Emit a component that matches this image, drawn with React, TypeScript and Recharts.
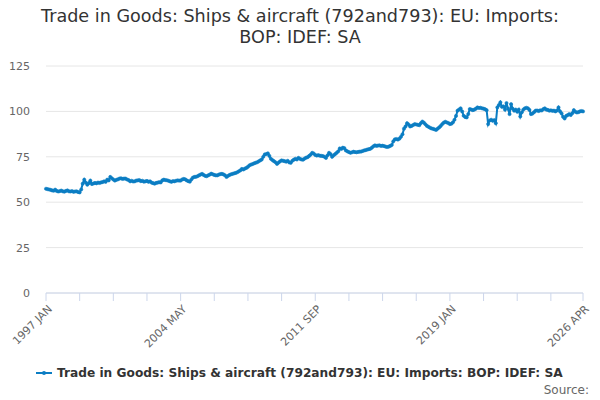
import React from "react";
import { LineChart, Line, XAxis, YAxis, CartesianGrid } from "recharts";

const TITLE_LINES = [
  "Trade in Goods: Ships & aircraft (792and793): EU: Imports:",
  "BOP: IDEF: SA",
];
const SERIES_NAME = "Trade in Goods: Ships & aircraft (792and793): EU: Imports: BOP: IDEF: SA";
const START_YEAR = 1997;
const MONTH_NAMES = ["JAN", "FEB", "MAR", "APR", "MAY", "JUN", "JUL", "AUG", "SEP", "OCT", "NOV", "DEC"];
const TICK_LABELS = ["1997 JAN", "2004 MAY", "2011 SEP", "2019 JAN", "2026 APR"];
const Y_TICKS = [0, 25, 50, 75, 100, 125];

// Monthly index values, 1997 JAN .. 2026 APR
const imports: number[] = [
  // 1997
  57.4, 57.2, 57.0, 56.8, 56.5, 56.3, 56.9, 56.2, 55.9, 56.1, 56.4, 56.0,
  // 1998
  55.8, 56.2, 56.5, 56.0, 55.9, 56.1, 55.7, 55.9, 56.0, 55.6, 55.4, 57.0,
  // 1999
  60.2, 62.4, 60.8, 59.6, 60.5, 61.9, 60.0, 60.3, 60.6, 60.4, 60.8, 60.6,
  // 2000
  60.9, 61.1, 61.5, 61.2, 62.4, 62.0, 63.9, 63.2, 62.5, 61.9, 62.3, 62.6,
  // 2001
  63.0, 63.2, 62.8, 63.0, 63.0, 62.5, 62.2, 61.5, 61.8, 61.4, 61.5, 61.9,
  // 2002
  62.0, 62.2, 61.6, 61.8, 61.3, 61.5, 61.7, 61.2, 61.5, 60.8, 60.5, 60.2,
  // 2003
  60.6, 60.8, 61.0, 60.9, 62.0, 62.4, 62.2, 62.1, 61.8, 61.5, 61.2, 61.6,
  // 2004
  61.5, 61.8, 62.0, 61.9, 61.9, 62.5, 62.8, 62.6, 62.0, 61.6, 61.3, 62.5,
  // 2005
  63.5, 63.9, 64.0, 64.3, 64.8, 65.2, 65.6, 65.0, 64.5, 64.3, 64.8, 65.2,
  // 2006
  65.7, 65.4, 65.0, 64.8, 64.8, 65.2, 65.5, 65.6, 65.3, 64.8, 63.9, 64.5,
  // 2007
  65.0, 65.4, 65.6, 65.9, 66.1, 66.5, 67.0, 67.5, 68.3, 68.0, 68.5, 68.9,
  // 2008
  69.5, 70.3, 70.7, 71.0, 71.4, 71.7, 72.0, 72.5, 73.0, 73.5, 75.0, 76.3,
  // 2009
  76.5, 76.9, 75.5, 73.9, 73.2, 72.6, 72.0, 71.1, 71.8, 72.5, 73.0, 72.8,
  // 2010
  72.6, 72.3, 72.8, 71.9, 71.7, 72.8, 73.4, 73.9, 73.5, 74.4, 73.9, 73.5,
  // 2011
  73.4, 74.0, 74.5, 74.8, 75.5, 76.2, 77.2, 76.8, 76.0, 75.7, 75.9, 75.6,
  // 2012
  75.5, 75.4, 75.0, 74.4, 75.8, 77.2, 76.5, 75.0, 75.8, 76.5, 77.2, 78.0,
  // 2013
  79.6, 79.3, 80.0, 79.8, 78.5, 78.0, 77.6, 77.2, 77.5, 77.8, 77.6, 77.5,
  // 2014
  77.7, 77.8, 77.9, 78.2, 78.5, 78.7, 79.0, 79.2, 79.4, 80.0, 80.8, 81.3,
  // 2015
  81.0, 81.2, 81.3, 81.0, 81.1, 80.9, 80.6, 80.4, 80.6, 81.0, 81.5, 83.5,
  // 2016
  84.6, 84.8, 84.5, 85.0, 86.0, 87.4, 90.5, 91.7, 93.5, 92.8, 91.7, 92.0,
  // 2017
  92.5, 93.0, 92.8, 92.6, 92.4, 93.5, 94.4, 93.8, 92.9, 92.0, 91.5, 91.0,
  // 2018
  90.6, 90.4, 90.1, 89.8, 90.5, 91.2, 92.0, 93.0, 93.8, 94.3, 93.9, 93.6,
  // 2019
  93.0, 93.2, 94.0, 95.4, 97.5, 100.4, 101.0, 101.7, 100.0, 97.6, 96.9, 96.7,
  // 2020
  98.5, 101.3, 101.0, 100.7, 101.0, 101.5, 102.2, 101.9, 102.0, 101.7, 101.5, 101.2,
  // 2021
  100.7, 93.0, 95.0, 95.4, 94.8, 95.2, 93.5, 102.2, 103.5, 105.0, 102.5, 102.8,
  // 2022
  101.0, 104.6, 101.5, 98.5, 104.0, 101.5, 100.4, 101.0, 99.8, 101.0, 97.2, 99.5,
  // 2023
  101.0, 101.7, 102.0, 101.7, 100.8, 98.5, 98.8, 99.6, 100.4, 100.5, 100.2, 100.6,
  // 2024
  100.5, 101.2, 101.7, 101.0, 100.8, 100.4, 100.6, 100.3, 100.4, 100.0, 100.5, 102.2,
  // 2025
  100.0, 98.9, 97.0, 96.1, 97.5, 98.0, 98.5, 98.0, 99.0, 100.7, 99.8, 99.4,
  // 2026
  99.6, 100.0, 100.2, 100.0,
];

const monthLabel = (i: number) =>
  `${START_YEAR + Math.floor(i / 12)} ${MONTH_NAMES[i % 12]}`;

const data = imports.map((v, i) => ({ date: monthLabel(i), value: v }));

const tickValues: string[] = [];
for (let i = 0; i < data.length - 1; i += 22) tickValues.push(data[i].date);
tickValues.push(data[data.length - 1].date);

const COLOR = "#0b7dc3";
const FONT = "'DejaVu Sans', sans-serif";

const XTick = (props: any) => {
  const { x, y, payload } = props;
  const label = TICK_LABELS.includes(payload.value) ? payload.value : "";
  if (!label) return null;
  return (
    <g transform={`translate(${x + 4},${y + 4})`}>
      <text
        transform="rotate(-45)"
        textAnchor="end"
        fill="#666666"
        fontSize={11}
        fontFamily={FONT}
        dy="0.35em"
      >
        {label}
      </text>
    </g>
  );
};

export default function App() {
  return (
    <div
      style={{
        position: "absolute",
        left: 0,
        top: 0,
        width: 600,
        height: 400,
        background: "#fff",
        fontFamily: FONT,
        overflow: "hidden",
      }}
    >
      <div
        style={{
          position: "absolute",
          left: 0,
          top: 6,
          width: 600,
          textAlign: "center",
          fontSize: 17.6,
          lineHeight: "21px",
          color: "#333333",
        }}
      >
        {TITLE_LINES.map((t) => (
          <div key={t}>{t}</div>
        ))}
      </div>
      <LineChart
        width={600}
        height={400}
        data={data}
        margin={{ top: 66, right: 17, left: 0, bottom: 0 }}
      >
        <CartesianGrid vertical={false} stroke="#e6e6e6" />
        <YAxis
          width={46}
          domain={[0, 125]}
          ticks={Y_TICKS}
          axisLine={false}
          tickLine={false}
          tickMargin={10}
          tick={{ fill: "#666666", fontSize: 11, fontFamily: FONT }}
        />
        <XAxis
          dataKey="date"
          height={107}
          ticks={tickValues}
          interval={0}
          tick={<XTick />}
          tickSize={8}
          axisLine={{ stroke: "#ccd6eb" }}
          tickLine={{ stroke: "#ccd6eb" }}
        />
        <Line
          type="linear"
          dataKey="value"
          stroke={COLOR}
          strokeWidth={2}
          dot={{ r: 1.6, fill: COLOR, stroke: COLOR, strokeWidth: 0.6 }}
          isAnimationActive={false}
        />
      </LineChart>
      <div
        style={{
          position: "absolute",
          left: 36,
          top: 366,
          display: "flex",
          alignItems: "center",
          fontSize: 12.2,
          fontWeight: "bold",
          color: "#333333",
          whiteSpace: "nowrap",
        }}
      >
        <svg width={17} height={10} style={{ marginRight: 4 }}>
          <line x1={0} y1={5} x2={16} y2={5} stroke={COLOR} strokeWidth={2} />
          <circle cx={8} cy={5} r={2} fill={COLOR} />
        </svg>
        <span>{SERIES_NAME}</span>
      </div>
      <div
        style={{
          position: "absolute",
          right: 11,
          top: 383,
          fontSize: 12,
          color: "#666666",
        }}
      >
        Source:
      </div>
    </div>
  );
}
